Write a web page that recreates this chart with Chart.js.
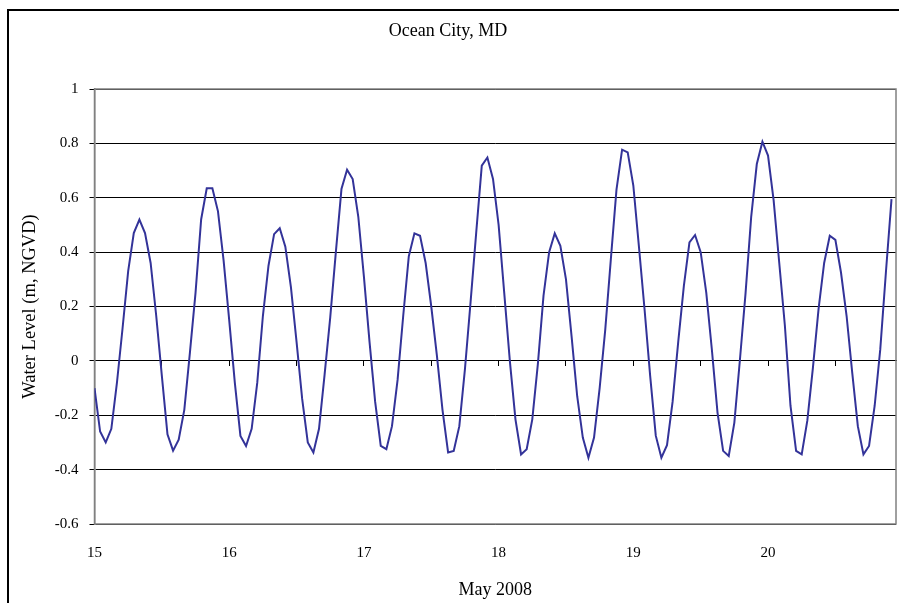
<!DOCTYPE html>
<html><head><meta charset="utf-8">
<script src="https://cdn.jsdelivr.net/npm/chart.js@4.4.1/dist/chart.umd.min.js"></script>
<style>html,body{margin:0;padding:0;background:#fff;}canvas{display:block;}</style>
</head><body>
<canvas id="c" width="899" height="603"></canvas>
<script>
const chartTitle = 'Ocean City, MD';
const xTitle = 'May 2008';
const yTitle = 'Water Level (m, NGVD)';
const dayLabels = [15, 16, 17, 18, 19, 20];
const yTickValues = [1, 0.8, 0.6, 0.4, 0.2, 0, -0.2, -0.4, -0.6];
// hourly water level (m, NGVD), one array per day of May 2008
const may15 = [-0.10,-0.26,-0.30,-0.25,-0.08,0.12,0.33,0.47,0.52,0.47,0.36,0.165,-0.055,-0.27,-0.33,-0.29,-0.18,0.03,0.25,0.52,0.635,0.635,0.55,0.37];
const may16 = [0.15,-0.08,-0.276,-0.313,-0.25,-0.08,0.165,0.35,0.466,0.488,0.42,0.27,0.07,-0.14,-0.30,-0.337,-0.25,-0.05,0.16,0.40,0.632,0.703,0.669,0.53];
const may17 = [0.31,0.07,-0.15,-0.313,-0.325,-0.24,-0.07,0.165,0.385,0.469,0.46,0.36,0.20,0.02,-0.18,-0.337,-0.331,-0.24,-0.03,0.215,0.47,0.718,0.748,0.669];
const may18 = [0.50,0.25,0.0,-0.215,-0.344,-0.325,-0.215,-0.01,0.24,0.40,0.469,0.423,0.30,0.09,-0.13,-0.282,-0.356,-0.282,-0.10,0.115,0.375,0.63,0.777,0.767];
const may19 = [0.645,0.42,0.19,-0.055,-0.275,-0.356,-0.31,-0.15,0.07,0.275,0.436,0.463,0.40,0.25,0.04,-0.19,-0.331,-0.35,-0.227,0.006,0.25,0.53,0.724,0.806];
const may20 = [0.755,0.59,0.36,0.13,-0.165,-0.331,-0.344,-0.22,-0.025,0.19,0.36,0.46,0.445,0.325,0.165,-0.043,-0.24,-0.344,-0.313,-0.165,0.043,0.325,0.595];
const days = [may15, may16, may17, may18, may19, may20];

const points = [];
days.forEach((arr, d) => arr.forEach((v, h) => points.push({x: dayLabels[0] + d + h / 24, y: v})));

const serif = 'Liberation Serif, Times New Roman, serif';

const framePlugin = {
  id: 'frame',
  beforeDatasetsDraw(chart) {
    const {ctx, chartArea: a} = chart;
    ctx.save();
    ctx.strokeStyle = '#808080';
    ctx.lineWidth = 1.5;
    ctx.strokeRect(a.left, a.top, a.right - a.left, a.bottom - a.top);
    ctx.restore();
  },
  afterDraw(chart) {
    const {ctx} = chart;
    ctx.save();
    ctx.strokeStyle = '#000';
    ctx.lineWidth = 2;
    ctx.strokeRect(8, 10, 1000, 1000);
    ctx.restore();
  }
};

new Chart(document.getElementById('c'), {
  type: 'line',
  data: {
    datasets: [{
      data: points,
      xAxisID: 'x', yAxisID: 'y',
      borderColor: '#333399',
      borderWidth: 2,
      pointRadius: 0,
      tension: 0,
      fill: false
    }]
  },
  options: {
    responsive: false,
    animation: false,
    layout: {padding: {left: 0, right: 3, top: 0, bottom: 0}},
    plugins: {
      legend: {display: false},
      tooltip: {enabled: false},
      title: {
        display: true, text: chartTitle, color: '#000',
        font: {family: serif, size: 18, weight: 'normal'},
        padding: {top: 20, bottom: 47.4}
      }
    },
    scales: {
      x: {
        type: 'linear', position: 'bottom', min: 15, max: 20.95,
        grid: {display: false, drawTicks: false},
        border: {display: false},
        ticks: {
          stepSize: 1, includeBounds: false, padding: 20, color: '#000', maxRotation: 0,
          font: {family: serif, size: 15},
          callback: v => dayLabels.includes(v) ? String(v) : ''
        },
        title: {display: true, text: xTitle, color: '#000', font: {family: serif, size: 18}, padding: {top: 0, bottom: 2}},
        afterFit: s => { s.height = 79; }
      },
      x2: {
        type: 'linear', position: {y: 0}, min: 15, max: 20.95,
        grid: {drawOnChartArea: false, drawTicks: true, tickLength: 5, color: '#000'},
        border: {display: true, color: '#000', width: 1},
        ticks: {display: false, stepSize: 0.5, includeBounds: false}
      },
      y: {
        min: -0.6, max: 1,
        afterBuildTicks: s => { s.ticks = yTickValues.map(v => ({value: v})); },
        ticks: {
          padding: 11, color: '#000', font: {family: serif, size: 15},
          callback: v => String(Number(v.toFixed(1)))
        },
        grid: {color: '#000', lineWidth: 1, tickLength: 5, drawTicks: true},
        border: {display: true, color: '#808080', width: 1.5},
        title: {display: true, text: yTitle, color: '#000', font: {family: serif, size: 18.5}, padding: {top: 19, bottom: 0}},
        afterFit: s => { s.width = 94.5; }
      }
    }
  },
  plugins: [framePlugin]
});
</script>
</body></html>
